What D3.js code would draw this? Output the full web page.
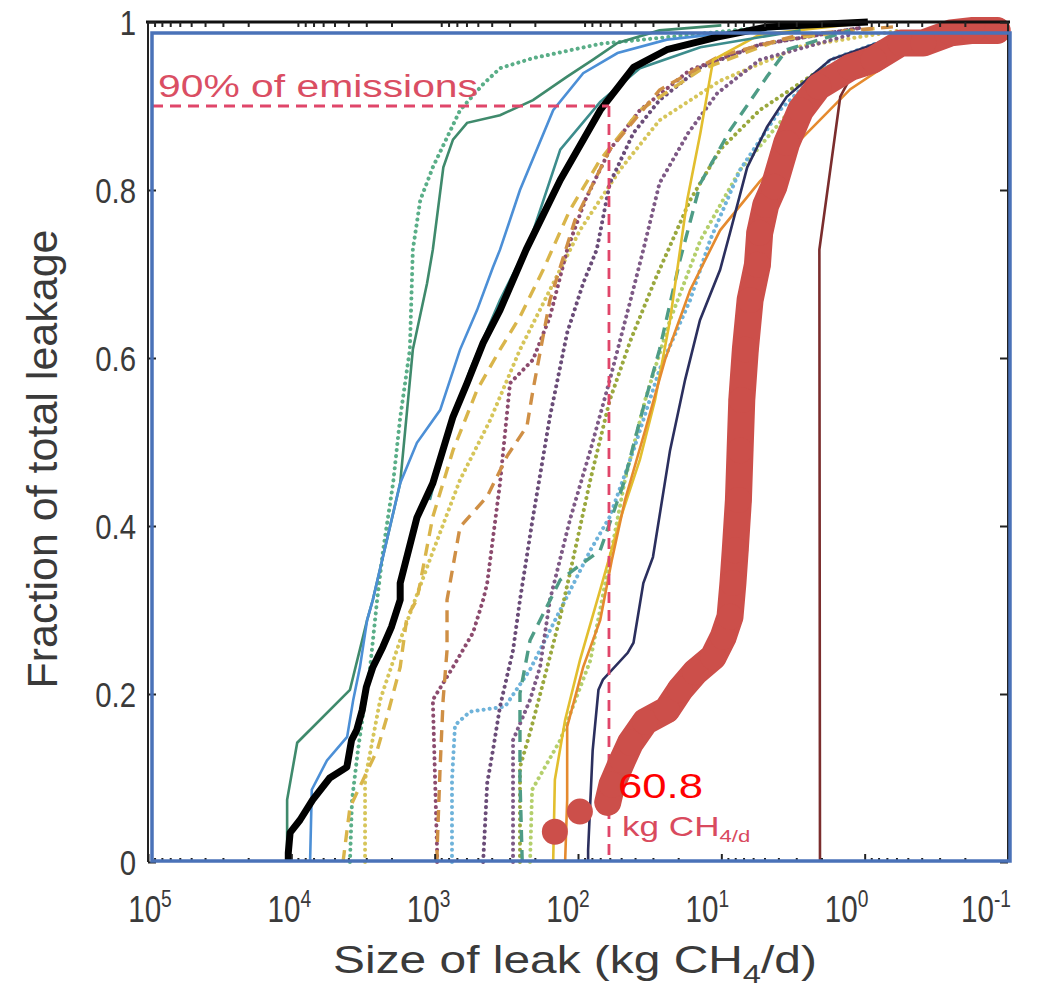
<!DOCTYPE html>
<meta charset="utf-8">
<script src="https://d3js.org/d3.v7.min.js"></script>
<style>
  body { margin:0; background:#fff; font-family: "Liberation Sans", Arial, sans-serif; }
  svg text { font-family: "Liberation Sans", Arial, sans-serif; }
</style>
<div id="chart"></div>
<script>
// leak size (kg CH4/d) vs cumulative fraction of total leakage
var xTicks = [1e5, 1e4, 1e3, 1e2, 1e1, 1e0, 1e-1]
var xTickExp = ["5", "4", "3", "2", "1", "0", "-1"]
var yTicks = [0, 0.2, 0.4, 0.6, 0.8, 1]
var threshold = 60.8
var thresholdFrac = 0.9

var allSites = [[10500,0],[10500,0.011],[10200,0.035],[8700,0.05],[7100,0.074],[5400,0.10],[4100,0.113],[3800,0.145],[3500,0.157],[3200,0.181],[3000,0.208],[2700,0.232],[2300,0.256],[2000,0.28],[1740,0.312],[1740,0.332],[1330,0.41],[1030,0.451],[745,0.53],[594,0.57],[459,0.618],[350,0.657],[230,0.729],[133,0.812],[70,0.895],[41,0.946],[24,0.967],[10.7,0.982],[4.8,0.994],[0.95,1]]
var siteGreen = [[10700,0],[10700,0.074],[9100,0.142],[3900,0.205],[2960,0.288],[2700,0.312],[1740,0.451],[1420,0.61],[1130,0.689],[1030,0.729],[870,0.827],[745,0.86],[594,0.88],[350,0.889],[206,0.907],[119,0.935],[79,0.955],[53,0.975],[27,0.99],[10,0.996]]
var siteBlue = [[7400,0],[7200,0.086],[5640,0.121],[4080,0.149],[3700,0.193],[3320,0.232],[2960,0.288],[2700,0.312],[1740,0.451],[1330,0.499],[916,0.538],[665,0.61],[506,0.657],[392,0.708],[350,0.729],[254,0.80],[149,0.895],[92,0.939],[53,0.963],[24,0.979],[6.3,0.99],[1.26,0.998]]
var siteTeal = [[1080,0.431],[845,0.502],[566,0.586],[350,0.669],[216,0.74],[133,0.848],[70,0.905],[37,0.945],[14,0.97],[2.8,0.99]]
var siteGreenDot = [[3900,0],[3770,0.074],[3430,0.133],[3060,0.193],[2820,0.232],[2520,0.312],[2290,0.371],[1950,0.451],[1740,0.529],[1490,0.61],[1420,0.729],[1260,0.788],[1030,0.827],[665,0.895],[459,0.926],[350,0.945],[206,0.957],[70,0.974],[31,0.98],[6.3,0.992]]
var siteYellowDash = [[4360,0],[3900,0.065],[2520,0.133],[2150,0.173],[1740,0.232],[1560,0.292],[1330,0.312],[1030,0.411],[745,0.49],[506,0.562],[350,0.61],[254,0.649],[175,0.705],[114,0.776],[70,0.836],[37,0.895],[14,0.943],[3.9,0.979],[0.78,0.993]]
var siteOrangeDash = [[962,0],[962,0.014],[916,0.113],[873,0.193],[820,0.252],[820,0.312],[665,0.399],[430,0.435],[313,0.483],[227,0.519],[206,0.562],[157,0.669],[105,0.764],[60,0.848],[27,0.919],[10.2,0.96],[2.8,0.985],[0.56,0.995]]
var sitePlumDot = [[962,0],[962,0.014],[1030,0.193],[745,0.232],[540,0.273],[459,0.312],[430,0.332],[350,0.451],[298,0.57],[206,0.598],[157,0.649],[119,0.729],[89,0.788],[60,0.848],[37,0.895],[16.5,0.943],[5.4,0.973],[1.07,0.993]]
var sitePurpleDot = [[459,0],[430,0.094],[392,0.133],[350,0.185],[284,0.252],[254,0.312],[206,0.411],[157,0.53],[119,0.63],[92,0.689],[74,0.729],[60,0.808],[41,0.868],[27,0.907],[14,0.946],[5.4,0.973],[1.07,0.993]]
var siteMauveDot = [[284,0],[284,0.074],[284,0.145],[216,0.193],[184,0.232],[157,0.312],[114,0.407],[82,0.49],[60,0.574],[43,0.669],[35,0.729],[27,0.808],[17,0.868],[10.7,0.915],[5.4,0.955],[1.26,0.985]]
var siteOliveDot = [[254,0],[254,0.113],[216,0.154],[164,0.232],[133,0.292],[105,0.371],[82,0.455],[60,0.55],[43,0.621],[29,0.693],[16.5,0.788],[10.2,0.848],[5.4,0.895],[2.05,0.943],[0.56,0.979]]
var siteTealDash = [[245,0],[254,0.098],[254,0.154],[254,0.201],[216,0.264],[133,0.336],[70,0.371],[48,0.451],[37,0.526],[27,0.61],[19.4,0.717],[14,0.808],[8.7,0.871],[4.8,0.935],[3.5,0.967],[1.26,0.99]]
var siteYellow = [[149,0],[145,0.098],[123,0.169],[97,0.24],[70,0.324],[51,0.407],[37,0.479],[29,0.55],[22.8,0.645],[17.3,0.788],[14,0.868],[11.4,0.955],[5.4,0.985],[1.26,0.997]]
var siteOrange = [[123,0],[119,0.074],[119,0.161],[92,0.232],[70,0.288],[58,0.36],[47,0.431],[34,0.514],[24.7,0.598],[16.5,0.681],[10.2,0.752],[5.4,0.81],[2.8,0.86],[1.26,0.92],[0.56,0.96],[0.22,0.99]]
var siteSkyDot = [[757,0],[757,0.098],[721,0.163],[566,0.179],[323,0.185],[216,0.229],[133,0.3],[82,0.371],[60,0.411],[41,0.49],[27,0.586],[16.5,0.669],[12,0.74],[7.4,0.824],[3.9,0.895],[1.74,0.955],[0.56,0.985]]
var siteGoldDot = [[3060,0],[3060,0.098],[2400,0.193],[1740,0.264],[1080,0.36],[665,0.455],[410,0.526],[254,0.61],[157,0.681],[97,0.752],[51,0.824],[27,0.883],[10.2,0.93],[2.8,0.971],[0.56,0.99]]
var siteLimeDot = [[216,0],[209,0.086],[133,0.145],[82,0.24],[60,0.36],[47,0.455],[34,0.55],[22.8,0.645],[14,0.74],[7.4,0.824],[3.3,0.895],[1.26,0.955],[0.35,0.99]]
var siteNavy = [[85,0],[85,0.014],[79,0.133],[72,0.205],[67,0.217],[45,0.249],[41,0.261],[35,0.332],[30,0.363],[22.8,0.49],[17.9,0.574],[14.1,0.645],[10.2,0.705],[8.7,0.749],[6.6,0.827],[4.8,0.875],[3.5,0.911],[1.74,0.955],[0.56,0.985]]
var siteBrown = [[2.05,0],[2.07,0.729],[1.48,0.911],[1.2,0.94]]
var focusSite = [[145,0.036],[97,0.060],[62,0.071],[58,0.092],[49,0.121],[43,0.142],[34,0.167],[24,0.181],[19.4,0.205],[15.2,0.226],[11.4,0.244],[9.7,0.268],[8.7,0.292],[8.3,0.332],[8.0,0.371],[7.6,0.431],[7.4,0.49],[7.2,0.55],[6.8,0.61],[6.3,0.669],[5.6,0.711],[5.4,0.749],[4.9,0.782],[4.3,0.804],[3.5,0.856],[2.8,0.895],[2.1,0.923],[1.26,0.946],[0.87,0.955],[0.56,0.975],[0.39,0.975],[0.25,0.987],[0.175,0.99],[0.119,0.99]]

// styles for the thin curves, drawn in this order
var thinSeries = [
  {data: siteGoldDot, color: "#d6c55a", dash: "dot"},
  {data: siteLimeDot, color: "#b4cf6c", dash: "dot"},
  {data: siteSkyDot, color: "#6fb3da", dash: "dot"},
  {data: siteOliveDot, color: "#9aa83e", dash: "dot"},
  {data: siteMauveDot, color: "#7e5a86", dash: "dot"},
  {data: sitePurpleDot, color: "#6a4c78", dash: "dot"},
  {data: sitePlumDot, color: "#8c4b6e", dash: "dot"},
  {data: siteGreenDot, color: "#5aae88", dash: "dot"},
  {data: siteYellowDash, color: "#d9b54a", dash: "dash"},
  {data: siteOrangeDash, color: "#cf8f45", dash: "dash"},
  {data: siteTealDash, color: "#4e9c86", dash: "dash"},
  {data: siteYellow, color: "#e2be2e", dash: "solid"},
  {data: siteOrange, color: "#e58a2e", dash: "solid"},
  {data: siteNavy, color: "#2b2f5e", dash: "solid"},
  {data: siteBrown, color: "#7b2d2d", dash: "solid"},
  {data: siteGreen, color: "#3f8a6c", dash: "solid"},
  {data: siteBlue, color: "#4c8fd6", dash: "solid"},
  {data: siteTeal, color: "#3c8c8c", dash: "solid"}
]

var W = 1046, H = 1001
var x = d3.scaleLog().domain([1e5, 1e-1]).range([148, 1008])
var xLab = d3.scaleLog().domain([1e5, 1e-1]).range([150, 986])
var y = d3.scaleLinear().domain([0, 1]).range([862, 22])

var svg = d3.select("#chart").append("svg").attr("width", W).attr("height", H)

var line = d3.line().x(function(d){ return x(d[0]) }).y(function(d){ return y(d[1]) })

var plot = svg.append("g")
thinSeries.forEach(function(s){
  var p = plot.append("path").datum(s.data).attr("d", line)
    .attr("fill", "none").attr("stroke", s.color)
  if(s.dash == "dot"){
    p.attr("stroke-width", 4).attr("stroke-linecap", "round").attr("stroke-dasharray", "0.1,6")
  }else if(s.dash == "dash"){
    p.attr("stroke-width", 3.4).attr("stroke-dasharray", "12,8")
  }else{
    p.attr("stroke-width", 2.6)
  }
})

// all sites combined
plot.append("path").datum(allSites).attr("d", line)
  .attr("fill", "none").attr("stroke", "#000").attr("stroke-width", 7)
  .attr("stroke-linejoin", "round")

// 90% guide lines
plot.append("line")
  .attr("x1", 152).attr("x2", x(threshold))
  .attr("y1", y(thresholdFrac)).attr("y2", y(thresholdFrac))
  .attr("stroke", "#e0466a").attr("stroke-width", 2.8).attr("stroke-dasharray", "11,7")
plot.append("line")
  .attr("x1", x(threshold)).attr("x2", x(threshold))
  .attr("y1", y(thresholdFrac)).attr("y2", y(0))
  .attr("stroke", "#e0466a").attr("stroke-width", 2.8).attr("stroke-dasharray", "11,7")

// focus site, heavy dots
var red = "#cc4f4a"
plot.append("path").datum(focusSite.slice(2)).attr("d", line)
  .attr("fill", "none").attr("stroke", red).attr("stroke-width", 27)
  .attr("stroke-linejoin", "round").attr("stroke-linecap", "round")
plot.selectAll(".dot").data(focusSite).enter().append("circle")
  .attr("cx", function(d){ return x(d[0]) })
  .attr("cy", function(d){ return y(d[1]) })
  .attr("r", 13).attr("fill", red)

// axes frame
var frame = svg.append("g")
frame.append("line").attr("x1", 146).attr("x2", 1010).attr("y1", y(1)).attr("y2", y(1))
  .attr("stroke", "#111").attr("stroke-width", 3)
frame.append("line").attr("x1", 148).attr("x2", 148).attr("y1", y(1)).attr("y2", y(0))
  .attr("stroke", "#222").attr("stroke-width", 2)
frame.append("line").attr("x1", 1008).attr("x2", 1008).attr("y1", y(1)).attr("y2", y(0))
  .attr("stroke", "#222").attr("stroke-width", 2)

var minor = []
for(var e = -1; e < 5; e++){
  for(var m = 2; m < 10; m++){ minor.push(m * Math.pow(10, e)) }
}
frame.append("g").attr("transform", "translate(0," + y(0) + ")")
  .call(d3.axisBottom(x).tickValues(xTicks).tickSize(-8).tickFormat(""))
frame.append("g").attr("transform", "translate(0," + y(0) + ")")
  .call(d3.axisBottom(x).tickValues(minor).tickSize(-4).tickFormat(""))
frame.append("g").attr("transform", "translate(0," + y(1) + ")")
  .call(d3.axisTop(x).tickValues(minor).tickSize(-5).tickFormat(""))
frame.append("g").attr("transform", "translate(148,0)")
  .call(d3.axisLeft(y).tickValues(yTicks).tickSize(-8).tickFormat(""))
frame.append("g").attr("transform", "translate(1008,0)")
  .call(d3.axisRight(y).tickValues(yTicks).tickSize(-8).tickFormat(""))
frame.selectAll(".domain").remove()
frame.selectAll(".tick line").attr("stroke", "#222").attr("stroke-width", 2)

// blue rectangle drawn over the axes
svg.append("rect").attr("x", 152).attr("y", 33).attr("width", 858).attr("height", 828)
  .attr("fill", "none").attr("stroke", "#4a72b8").attr("stroke-width", 3.5)

// tick labels (glyphs in the source are narrower than Liberation Sans)
var tickCol = "#3a3a3a"
svg.selectAll(".ylab").data(yTicks).enter().append("g")
  .attr("transform", function(d){ return "translate(136," + y(d) + ") scale(0.84,1)" })
  .append("text").attr("dy", "0.36em").attr("text-anchor", "end")
  .attr("font-size", 35).attr("fill", tickCol)
  .text(function(d){ return d == 0 || d == 1 ? d : d.toFixed(1) })

var xl = svg.selectAll(".xlab").data(xTicks).enter().append("g")
  .attr("transform", function(d){ return "translate(" + xLab(d) + ",922) scale(0.8,1)" })
  .append("text").attr("text-anchor", "middle").attr("font-size", 37).attr("fill", tickCol)
xl.append("tspan").text("10")
xl.append("tspan").attr("dy", -15).attr("font-size", 24)
  .text(function(d, i){ return xTickExp[i] })

// axis titles (stretched wide as in the source)
var xt = svg.append("g").attr("transform", "translate(575,973) scale(1.26,1)")
  .append("text").attr("text-anchor", "middle")
  .attr("font-size", 38).attr("fill", tickCol)
xt.append("tspan").text("Size of leak (kg CH")
xt.append("tspan").attr("dy", 10).attr("font-size", 26).text("4")
xt.append("tspan").attr("dy", -10).text("/d)")

svg.append("text").attr("transform", "translate(57,459) rotate(-90)")
  .attr("text-anchor", "middle").attr("font-size", 43).attr("fill", tickCol)
  .text("Fraction of total leakage")

// annotations
svg.append("text").attr("x", 158).attr("y", 97)
  .attr("font-size", 31).attr("fill", "#da4e63")
  .attr("textLength", 320).attr("lengthAdjust", "spacingAndGlyphs")
  .text("90% of emissions")
svg.append("text").attr("x", 618).attr("y", 798)
  .attr("font-size", 35).attr("fill", "#ff0000")
  .attr("textLength", 85).attr("lengthAdjust", "spacingAndGlyphs")
  .text(threshold)
var kg = svg.append("g").attr("transform", "translate(622,836) scale(1.3,1)")
  .append("text").attr("font-size", 27).attr("fill", "#d94a5e")
kg.append("tspan").text("kg CH")
kg.append("tspan").attr("dy", 6).attr("font-size", 17).text("4/d")
</script>
